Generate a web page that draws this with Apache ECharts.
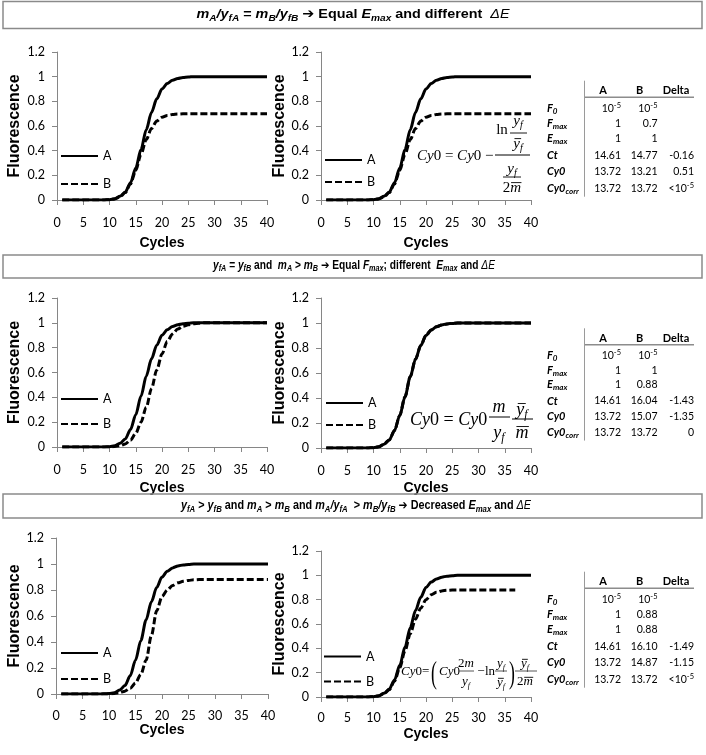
<!DOCTYPE html>
<html><head><meta charset="utf-8">
<script src="https://cdn.jsdelivr.net/npm/echarts@6/dist/echarts.min.js"></script>
<style>html,body{margin:0;padding:0;background:#fff}#c{width:706px;height:755px}</style>
</head><body><div id="c"></div>
<script>
// ---------------- data ----------------
const cycles = [1,2,3,4,5,6,7,8,9,10,11,12,13,14,15,16,17,18,19,20,21,22,23,24,25,26,27,28,29,30,31,32,33,34,35,36,37,38,39,40];
const curveA = [0,0,0,0,0,0,0,0,0.001,0.003,0.01,0.03,0.065,0.14,0.26,0.41,0.57,0.71,0.82,0.9,0.945,0.97,0.985,0.993,0.997,1,1,1,1,1,1,1,1,1,1,1,1,1,1,1];
const sec1B = [0,0,0,0,0,0,0,0,0.001,0.003,0.009,0.025,0.06,0.13,0.24,0.37,0.49,0.58,0.64,0.67,0.685,0.693,0.697,0.699,0.7,0.7,0.7,0.7,0.7,0.7,0.7,0.7,0.7,0.7,0.7,0.7,0.7,0.7,0.7,0.7];
const sec2B = [0,0,0,0,0,0,0,0,0,0.001,0.004,0.01,0.025,0.055,0.11,0.2,0.32,0.47,0.62,0.75,0.85,0.91,0.95,0.972,0.985,0.992,0.996,1,1,1,1,1,1,1,1,1,1,1,1,1];
const sec2Bcorr = [0,0,0,0,0,0,0,0,0.001,0.003,0.01,0.03,0.065,0.14,0.26,0.41,0.57,0.71,0.82,0.9,0.945,0.97,0.985,0.993,0.997,1,1,1,1,1,1,1,1,1,1,1,1,1,1,1];
const sec3B = [0,0,0,0,0,0,0,0,0,0.001,0.004,0.01,0.022,0.045,0.085,0.15,0.26,0.45,0.64,0.75,0.8,0.835,0.855,0.867,0.874,0.878,0.88,0.88,0.88,0.88,0.88,0.88,0.88,0.88,0.88,0.88,0.88,0.88,0.88,0.88];
const sec3Bcorr = [0,0,0,0,0,0,0,0,0.001,0.003,0.009,0.027,0.06,0.13,0.24,0.38,0.52,0.64,0.73,0.8,0.84,0.86,0.872,0.877,0.879,0.88,0.88,0.88,0.88,0.88,0.88,0.88,0.88,0.88,0.88,0.88,0.88];

const rowLabels = [["F","0"],["F","max"],["E","max"],["Ct",""],["Cy0",""],["Cy0","corr"]];
const colHeads = ["A","B","Delta"];
const tab1A = ["10^-5","1","1","14.61","13.72","13.72"];
const tab1B = ["10^-5","0.7","1","14.77","13.21","13.72"];
const tab1D = ["","","","-0.16","0.51","<10^-5"];
const tab2A = ["10^-5","1","1","14.61","13.72","13.72"];
const tab2B = ["10^-5","1","0.88","16.04","15.07","13.72"];
const tab2D = ["","","","-1.43","-1.35","0"];
const tab3A = ["10^-5","1","1","14.61","13.72","13.72"];
const tab3B = ["10^-5","0.88","0.88","16.10","14.87","13.72"];
const tab3D = ["","","","-1.49","-1.15","<10^-5"];

// ---------------- helpers ----------------
const SERIF = '"Liberation Serif", "Times New Roman", serif';
const SANS = '"Liberation Sans", Arial, "DejaVu Sans", sans-serif';
const LATO = 'Lato, "Noto Sans", sans-serif';
const f = (st, sz, fam) => (st ? st + ' ' : '') + sz + 'px ' + fam;
const cv = document.createElement('canvas').getContext('2d');
function mw(t, font) { cv.font = font; return cv.measureText(t).width; }
const els = [];
function txt(x, y, t, font, align, extra) {
  const e = Object.assign({type:'text', x:x, y:y, z:100, silent:true,
    style:{text:t, font:font, fill:'#000', textAlign:align||'left', textVerticalAlign:'middle', align:align||'left', verticalAlign:'middle'}}, extra||{});
  els.push(e); return e;
}
function seq(pieces, x, y, align, sx) {
  sx = sx || 1;
  const ws = pieces.map(p => mw(p[0], p[1]) * sx);
  const tot = ws.reduce((a, b) => a + b, 0);
  let cx = align === 'center' ? x - tot / 2 : align === 'right' ? x - tot : x;
  const starts = [];
  pieces.forEach((p, i) => {
    starts.push(cx);
    txt(cx, y + (p[2] || 0), p[0], p[1], 'left', sx !== 1 ? {scaleX: sx} : null);
    cx += ws[i];
  });
  return {starts: starts, ws: ws, tot: tot};
}
function seqFit(pieces, x, y, targetW) {
  const nat = pieces.reduce((a, p) => a + mw(p[0], p[1]), 0);
  return seq(pieces, x, y, 'center', targetW / nat);
}
function hline(x1, x2, y, color, w) {
  els.push({type:'line', z:100, silent:true, shape:{x1:x1, y1:y, x2:x2, y2:y}, style:{stroke:color||'#000', lineWidth:w||1}});
}
function vline(x, y1, y2, color, w) {
  els.push({type:'line', z:100, silent:true, shape:{x1:x, y1:y1, x2:x, y2:y2}, style:{stroke:color||'#000', lineWidth:w||1}});
}
function yf(xc, yc, s, bar) {
  const r = seq([["y", f('italic', s, SERIF)], ["f", f('italic', Math.round(s * 0.65), SERIF), s * 0.28]], xc, yc, 'center');
  if (bar) hline(r.starts[0] + s * 0.08, r.starts[0] + r.ws[0] + s * 0.08, yc - s * 0.36, '#000', 0.9);
}
function twoM(xc, yc, s, bar) {
  const r = seq([["2", f('', s, SERIF)], ["m", f('italic', s, SERIF)]], xc, yc, 'center');
  if (bar) hline(r.starts[1] + s * 0.05, r.starts[1] + r.ws[1] + s * 0.02, yc - s * 0.36, '#000', 0.9);
}
function mBar(xc, yc, s) {
  const r = seq([["m", f('italic', s, SERIF)]], xc, yc, 'center');
  hline(r.starts[0] + s * 0.05, r.starts[0] + r.ws[0] + s * 0.02, yc - s * 0.36, '#000', 0.9);
}

// ---------------- section titles ----------------
function tfonts(sz) {
  return {BI: f('bold italic', sz, SANS), BIs: f('bold italic', Math.round(sz * 0.7 * 2) / 2, SANS), BD: f('bold', sz, SANS), IT: f('italic', sz, SANS), d: sz * 0.3};
}
function box(y, h) {
  els.push({type:'rect', z:1, silent:true, shape:{x:3, y:y, width:699, height:h}, style:{fill:'none', stroke:'#8a8a8a', lineWidth:1.5}});
}
box(1.5, 27); box(255, 23); box(494, 24);
(function () {
  const t = tfonts(13.5), BI = t.BI, BIs = t.BIs, BD = t.BD, IT = t.IT, d = t.d;
  seqFit([["m",BI],["A",BIs,d],["/",BI],["y",BI],["fA",BIs,d],[" = ",BD],["m",BI],["B",BIs,d],["/",BI],["y",BI],["fB",BIs,d],[" \u2794 ",BD],["Equal ",BD],["E",BI],["max",BIs,d],[" and different  ",BD],["\u0394E",IT]], 353, 14, 313);
})();
(function () {
  const t = tfonts(12), BI = t.BI, BIs = t.BIs, BD = t.BD, IT = t.IT, d = t.d;
  seqFit([["y",BI],["fA",BIs,d],[" = ",BD],["y",BI],["fB",BIs,d],[" and  ",BD],["m",BI],["A",BIs,d],[" > ",BD],["m",BI],["B",BIs,d],[" \u2794 ",BD],["Equal ",BD],["F",BI],["max",BIs,d],["; different  ",BD],["E",BI],["max",BIs,d],[" and ",BD],["\u0394E",IT]], 354, 265.5, 282);
})();
(function () {
  const t = tfonts(12.5), BI = t.BI, BIs = t.BIs, BD = t.BD, IT = t.IT, d = t.d;
  seqFit([["y",BI],["fA",BIs,d],[" > ",BD],["y",BI],["fB",BIs,d],[" and ",BD],["m",BI],["A",BIs,d],[" > ",BD],["m",BI],["B",BIs,d],[" and ",BD],["m",BI],["A",BIs,d],["/",BI],["y",BI],["fA",BIs,d],["  > ",BD],["m",BI],["B",BIs,d],["/",BI],["y",BI],["fB",BIs,d],[" \u2794 ",BD],["Decreased ",BD],["E",BI],["max",BIs,d],[" and ",BD],["\u0394E",IT]], 356, 505.5, 350);
})();

// ---------------- tables ----------------
const TR = f('', 10.5, LATO), TS = f('', 7.5, LATO), TB = f('bold', 11, LATO), TBI = f('bold italic', 11, LATO), TBIs = f('bold italic', 8, LATO);
function valPieces(v) {
  if (v.indexOf('^') >= 0) { const p = v.split('^'); return [[p[0], TR], [p[1], TS, -3.5]]; }
  return [[v, TR]];
}
function table(H, k, A, B, D) {
  const offs = [18, 33, 48, 65, 81, 98].map(o => o * k);
  txt(603, H, colHeads[0], TB, 'center');
  txt(639.5, H, colHeads[1], TB, 'center');
  txt(676, H, colHeads[2], TB, 'center');
  hline(584, 694, H + 6.5, '#8c8c8c', 1.6);
  vline(584.5, H - 10, H + 106 * k, '#9a9a9a', 1);
  rowLabels.forEach((rl, i) => {
    const y = H + offs[i];
    const pcs = [[rl[0], TBI]];
    if (rl[1]) pcs.push([rl[1], TBIs, 3]);
    seq(pcs, 547, y, 'left');
    if (A[i]) seq(valPieces(A[i]), 621, y, 'right');
    if (B[i]) seq(valPieces(B[i]), 657.5, y, 'right');
    if (D[i]) seq(valPieces(D[i]), 694, y, 'right');
  });
}
table(90.7, 1, tab1A, tab1B, tab1D);
table(338.3, 0.965, tab2A, tab2B, tab2D);
table(581.7, 1, tab3A, tab3B, tab3D);

// ---------------- formulas ----------------
(function () {
  const s = 15, I = f('italic', s, SERIF), R = f('', s, SERIF);
  seq([["Cy", I], ["0 = ", R], ["Cy", I], ["0 \u2212", R]], 417, 156, 'left');
  hline(495, 530, 155, '#000', 1);
  txt(502, 130, "ln", R, 'center');
  yf(518, 121, s);
  hline(510, 527, 133, '#000', 0.9);
  yf(518, 144, s, true);
  yf(512, 169, s);
  hline(503, 521, 177, '#000', 0.9);
  twoM(512, 188, s, true);
})();
(function () {
  const s = 18, I = f('italic', s, SERIF), R = f('', s, SERIF);
  seq([["Cy", I], ["0 = ", R], ["Cy", I], ["0", R]], 410, 420, 'left');
  txt(499, 407, "m", I, 'center');
  hline(489, 510, 417, '#000', 1);
  yf(499, 433, s);
  yf(522, 410, s, true);
  hline(512, 533, 419, '#000', 1);
  mBar(522, 433, s);
})();
(function () {
  const s = 13, I = f('italic', s, SERIF), R = f('', s, SERIF), P = f('', 32, SERIF);
  seq([["Cy", I], ["0=", R]], 401, 672, 'left');
  txt(434, 675, "(", P, 'center', {scaleX: 0.55});
  seq([["Cy", I], ["0", R]], 439, 672, 'left');
  twoM(466, 664, s, false);
  hline(459, 474, 671, '#444', 0.9);
  yf(466, 682, s);
  txt(481, 672, "\u2212", R, 'center');
  txt(490, 672, "ln", R, 'center');
  yf(501, 664, s);
  hline(495, 507, 671, '#444', 0.9);
  yf(501, 683, s, true);
  txt(512, 675, ")", P, 'center', {scaleX: 0.55});
  yf(525, 664, s, true);
  hline(515, 537, 671, '#444', 0.9);
  twoM(525, 682, s, true);
})();

// ---------------- charts ----------------
// [left, top, width, height, xNameGap, xLabelMargin, yNameGap]
const grids = [
  [57, 52, 210, 148, 36, 16, 34],
  [321, 52, 210, 148, 36, 16, 33],
  [57, 298, 210, 149, 34, 16, 34],
  [321, 298, 210, 150, 33, 16, 33],
  [56, 538, 212, 156, 28, 15, 33],
  [321, 551, 210, 146, 30, 14, 33]
];
// [left, top, itemGap]
const legendPos = [[60, 149, 14], [324, 153, 8], [60, 392, 11], [325, 396, 8], [60, 646, 12], [323, 649.5, 11]];
const seriesData = [
  [curveA, sec1B], [curveA, sec1B],
  [curveA, sec2B], [curveA, sec2Bcorr],
  [curveA, sec3B], [curveA, sec3Bcorr]
];
const pairs = vals => vals.map((v, i) => [cycles[i], v]);
const axisCol = '#868686';
const series = [];
seriesData.forEach((sd, gi) => {
  ['A', 'B'].forEach((nm, k) => {
    series.push({
      name: nm, type: 'line', xAxisIndex: gi, yAxisIndex: gi,
      data: pairs(sd[k]), symbol: 'none', smooth: 0.3, smoothMonotone: 'x',
      lineStyle: {color: '#000', width: 3, type: k === 0 ? 'solid' : [7, 3]},
      itemStyle: {color: '#000'}, z: k === 0 ? 3 : 2
    });
  });
});
const option = {
  animation: false,
  backgroundColor: '#fff',
  grid: grids.map(g => ({left: g[0], top: g[1], width: g[2], height: g[3]})),
  xAxis: grids.map((g, i) => ({
    gridIndex: i, type: 'value', min: 0, max: 40, interval: 5,
    name: 'Cycles', nameLocation: 'middle', nameGap: g[4],
    nameTextStyle: {fontFamily: SANS, fontWeight: 'bold', fontSize: 14, color: '#000'},
    axisLine: {show: true, lineStyle: {color: axisCol, width: 1}},
    axisTick: {show: true, length: 5, lineStyle: {color: axisCol}},
    axisLabel: {margin: g[5], fontFamily: LATO, fontSize: 12.5, color: '#000'},
    splitLine: {show: false}
  })),
  yAxis: grids.map((g, i) => ({
    gridIndex: i, type: 'value', min: 0, max: 1.2, interval: 0.2,
    name: 'Fluorescence', nameLocation: 'middle', nameGap: g[6], nameRotate: 90,
    nameTextStyle: {fontFamily: SANS, fontWeight: 'bold', fontSize: 16, color: '#000'},
    axisLine: {show: true, lineStyle: {color: axisCol, width: 1}},
    axisTick: {show: true, length: 5, lineStyle: {color: axisCol}},
    axisLabel: {margin: 12, fontFamily: LATO, fontSize: 12.5, color: '#000'},
    splitLine: {show: false}
  })),
  legend: legendPos.map(p => ({
    data: ['A', 'B'], orient: 'vertical', left: p[0], top: p[1], itemGap: p[2],
    itemWidth: 37, itemHeight: 14, padding: 0, selectedMode: false,
    itemStyle: {opacity: 0, borderWidth: 0},
    textStyle: {fontFamily: LATO, fontSize: 12.5, color: '#000', lineHeight: 14}
  })),
  series: series,
  graphic: {elements: els}
};
const chart = echarts.init(document.getElementById('c'), null, {renderer: 'canvas'});
chart.setOption(option);
</script>
</body></html>
